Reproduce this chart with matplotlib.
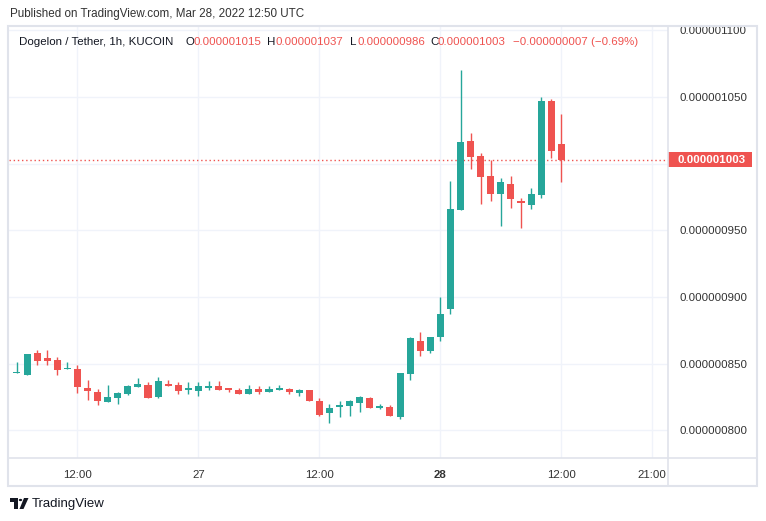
import matplotlib
matplotlib.use('Agg')
import matplotlib.pyplot as plt
from matplotlib.patches import Rectangle, Polygon, Circle
from matplotlib.lines import Line2D
from matplotlib.transforms import blended_transform_factory

plt.rcParams['font.family'] = ['Liberation Sans', 'DejaVu Sans']

# colours
GREEN = '#26a69a'
RED = '#ef5350'
GRID = '#f0f3fa'
BORDER = '#e0e3eb'
TEXT = '#131722'

W, H = 766, 521

# hourly candles, x = hours since 26 Mar 2022 00:00
# prices in units of 1e-9 USDT
hours = list(range(6, 61))
opens = [843, 841.7, 857.8, 854.3, 852.8, 846, 845.8, 831.8, 828.8, 821.3,
         824.3, 827.3, 832.8, 834, 825, 835, 834, 830.5, 829.5, 832,
         833, 831.5, 830, 827, 831, 828.5, 830.5, 831, 828.3, 830.3,
         821.8, 812.8, 817.3, 818.3, 820.8, 824.3, 817, 817.3, 810.3, 842.3,
         866.8, 859.8, 869.8, 890.8, 965.3, 1017.3, 1005.8, 990.8, 977.3, 984.8,
         971.8, 969.3, 976.8, 1047.3, 1015]
highs = [851, 857.5, 860.3, 860.3, 854.8, 851, 848.8, 837.8, 830.8, 834.3,
         828.5, 834.3, 839.3, 836, 840, 838, 836.5, 836, 836, 837,
         837, 831.8, 831.5, 834, 833, 833, 834, 831.5, 831.3, 830.5,
         824.3, 819.8, 822.3, 823, 826, 825.3, 819.8, 818.8, 843, 870.3,
         873.8, 870, 900.3, 987.3, 1070.3, 1023.3, 1008.3, 1002.8, 989.3, 990.8,
         974.3, 981.8, 1050.3, 1048.8, 1037]
lows = [843, 841.5, 849.2, 849.2, 841.3, 845.8, 828.3, 822.8, 819.3, 821,
        819.8, 826.3, 832.5, 824, 824, 833, 827.5, 827.5, 826, 830.5,
        830, 828.5, 827, 827, 827.5, 828.5, 830.5, 827.5, 825.8, 822,
        811, 805.8, 810.3, 810.8, 813.8, 816.5, 815.8, 810.5, 808.8, 837.8,
        855.8, 858.3, 867.3, 887.3, 965, 996.3, 969.8, 972.3, 953.3, 966.8,
        951.8, 966.3, 974.3, 1004.3, 986]
closes = [843.6, 857.3, 852.2, 852.2, 845.3, 846.5, 832.8, 829.8, 822.3, 825.3,
          828.3, 833.3, 834.8, 824.5, 837, 833.5, 829.5, 831.3, 833, 832.6,
          830.5, 830, 827, 831, 828.5, 831, 831.1, 828.5, 830.3, 822.3,
          811.3, 816.8, 819.3, 822.3, 825.3, 816.8, 817.6, 810.8, 842.8, 869.3,
          859.8, 869.8, 887.3, 966.3, 1016.3, 1005.3, 990.3, 977.3, 986.3, 973.8,
          970.3, 977.3, 1047.3, 1009.8, 1003]

price_ticks = [800, 850, 900, 950, 1000, 1050, 1100]
time_ticks = [12, 24, 36, 48, 60, 69]
time_labels = ['12:00', '27', '12:00', '28', '12:00', '21:00']
last_price = 1003


def fx(px):
    return px / W


def fy(py):
    return 1 - py / H


fig = plt.figure(figsize=(W / 100, H / 100), dpi=100)
fig.patch.set_facecolor('white')

ax = fig.add_axes([fx(9), fy(458), fx(668) - fx(9), fy(26) - fy(458)])
ax.set_xlim(5.21, 70.58)
ax.set_ylim(779.25, 1103.25)

# candles
for t, o, hi, lo, c in zip(hours, opens, highs, lows, closes):
    col = GREEN if c >= o else RED
    ax.vlines(t, lo, hi, color=col, lw=1, zorder=3)
    body = max(abs(c - o), 1.1)
    ax.bar(t, body, bottom=min(o, c), width=0.7, color=col, edgecolor='none', zorder=4)

ax.axhline(last_price, color=RED, lw=1, ls=(0, (1, 2)), zorder=2)

ax.set_yticks(price_ticks)
ax.set_yticklabels(['' if v == 1000 else f'{v * 1e-9:.9f}' for v in price_ticks])
ax.set_xticks(time_ticks)
ax.set_xticklabels(time_labels)
ax.get_xticklabels()[3].set_fontweight('bold')
ax.yaxis.tick_right()
ax.tick_params(axis='y', length=0, pad=8, labelsize=8.25, labelcolor='#333333')
ax.tick_params(axis='x', length=0, pad=9, labelsize=8.25, labelcolor='#333333')
ax.grid(True, color=GRID, lw=1, zorder=0)
ax.set_axisbelow(True)
for s in ax.spines.values():
    s.set_visible(False)

# last price tag on the price axis
trans = blended_transform_factory(ax.transAxes, ax.transData)
ax.add_patch(Rectangle((1.0, last_price - 5.6), 84 / 659, 11.25, transform=trans,
                       facecolor=RED, edgecolor='none', clip_on=False, zorder=5))
ax.text(1 + 10 / 659, last_price, f'{last_price * 1e-9:.9f}', transform=trans,
        ha='left', va='center', color='white', fontweight='bold', fontsize=8.25,
        clip_on=False, zorder=6)

# frame and separators
fig.add_artist(Rectangle((fx(8), fy(486)), fx(757) - fx(8), fy(26) - fy(486),
                         transform=fig.transFigure, fill=False, ec=BORDER, lw=1.5))
fig.add_artist(Line2D([fx(668), fx(668)], [fy(26), fy(486)], color=BORDER, lw=1.2))
fig.add_artist(Line2D([fx(8), fx(757)], [fy(458), fy(458)], color=BORDER, lw=1.2))

# header
fig.text(fx(10), fy(14), 'Published on TradingView.com, Mar 28, 2022 12:50 UTC',
         ha='left', va='center', fontsize=8.4, color='#333333')

legend_parts = [
    (19, 'Dogelon / Tether, 1h, KUCOIN', TEXT),
    (185, 'O', TEXT), (193, '0.000001015', RED),
    (267, 'H', TEXT), (276, '0.000001037', RED),
    (350, 'L', TEXT), (357, '0.000000986', RED),
    (430, 'C', TEXT), (438, '0.000001003', RED),
    (513, '\u22120.000000007 (\u22120.69%)', RED),
]
for x, s, col in legend_parts:
    fig.text(fx(x), fy(42), s, ha='left', va='center', fontsize=8.25, color=col)

# TradingView logo at the bottom
fig.add_artist(Polygon([(fx(10), fy(498)), (fx(17.5), fy(498)), (fx(17.5), fy(509)),
                        (fx(14), fy(509)), (fx(14), fy(501.5)), (fx(10), fy(501.5))],
                       closed=True, transform=fig.transFigure, fc=TEXT, ec='none'))
fig.add_artist(Circle((fx(20.5), fy(500)), 1.7 / W, transform=fig.transFigure, fc=TEXT, ec='none'))
fig.add_artist(Polygon([(fx(24), fy(498)), (fx(28.5), fy(498)), (fx(23.5), fy(509)),
                        (fx(19.5), fy(509))],
                       closed=True, transform=fig.transFigure, fc=TEXT, ec='none'))
fig.text(fx(32), fy(503.5), 'TradingView', ha='left', va='center', fontsize=9.5, color=TEXT)

fig.savefig('out.png', dpi=100)
